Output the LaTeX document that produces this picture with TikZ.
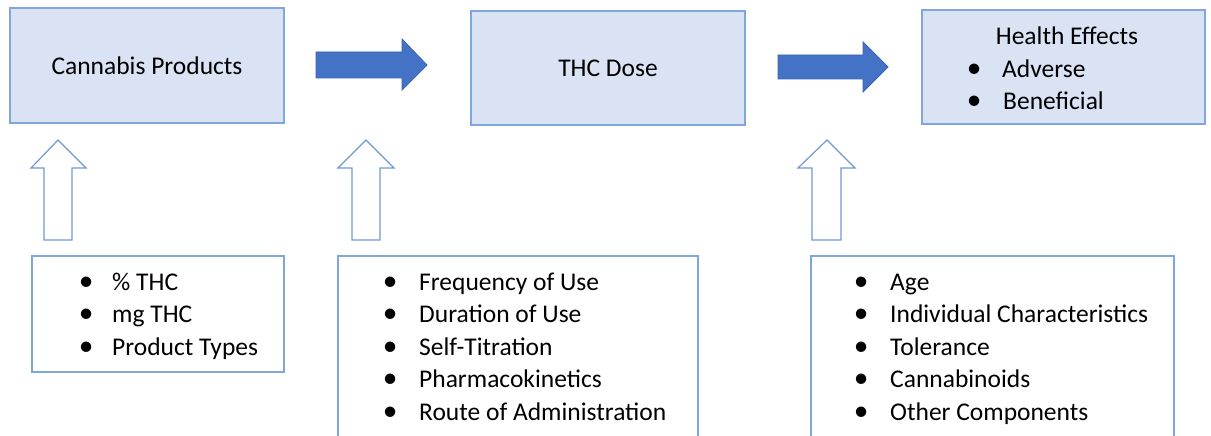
\documentclass[tikz,border=0pt]{standalone}
\usepackage{fontspec}
\setmainfont{Carlito}
\definecolor{boxfill}{HTML}{DAE3F3}
\definecolor{boxline}{HTML}{7FA6DD}
\definecolor{arrowfill}{HTML}{4472C4}
\definecolor{arrowline}{HTML}{3A64B0}
\definecolor{uparrowline}{HTML}{6F98D9}
% bullet centred on the current point, followed by a gap
\newcommand{\itemdot}[1][28pt]{\makebox[0pt][c]{\scalebox{1.15}{•}}\hspace{#1}}

\begin{document}
\begin{tikzpicture}[x=1pt,y=-1pt,
  every node/.style={font=\fontsize{25.5}{32.5}\selectfont, inner sep=0pt, text=black},
  topbox/.style={rectangle, draw=boxline, line width=1.2pt, fill=boxfill},
  listbox/.style={rectangle, draw=boxline, line width=1.2pt, fill=white},
  flowarrow/.style={fill=arrowfill, draw=arrowline, line width=0.8pt, line join=miter},
  uparrow/.style={draw=uparrowline, line width=1.2pt, fill=white, line join=miter}]

\clip (0,0) rectangle (1211,436);

% top row: the three stages
\node[topbox, minimum width=274pt, minimum height=115pt] (products) at (147,65.5) {Cannabis Products};
\node[topbox, minimum width=274pt, minimum height=114pt] (dose) at (608,68) {THC Dose};
\node[topbox, minimum width=283pt, minimum height=114pt] (effects) at (1063.5,67) {};
\node[anchor=base] (effectstitle) at (1067,44.5) {Health Effects};
\node[anchor=base west] (effectslist) at (974,77.5)
  {\begin{tabular}[t]{@{}l@{}}\itemdot Adverse\\ \itemdot[29pt]Beneficial\end{tabular}};

% block arrows between the stages
\draw[flowarrow] (316,52) -- (402,52) -- (402,39) -- (427,65) -- (402,90) -- (402,78) -- (316,78) -- cycle;
\draw[flowarrow] (778,55) -- (863,55) -- (863,42) -- (888,67) -- (863,92) -- (863,79) -- (778,79) -- cycle;

% hollow arrows from the factor lists
\draw[uparrow] (44,240) -- (44,168) -- (31,168) -- (58,140) -- (86,168) -- (72,168) -- (72,240) -- cycle;
\draw[uparrow] (352,240) -- (352,168) -- (338,168) -- (366,140) -- (394,168) -- (380,168) -- (380,240) -- cycle;
\draw[uparrow] (812,240) -- (812,168) -- (798,168) -- (827,140) -- (855,168) -- (841,168) -- (841,240) -- cycle;

% factor lists
\node[listbox, minimum width=252pt, minimum height=116pt] (thcbox) at (158,314) {};
\node[listbox, minimum width=360pt, minimum height=200pt] (usebox) at (518,356) {};
\node[listbox, minimum width=363pt, minimum height=200pt] (personbox) at (992.5,356) {};

\node[anchor=base west] (thclist) at (86,290)
  {\begin{tabular}[t]{@{}l@{}}\itemdot[26pt]\% THC\\ \itemdot[26pt]mg THC\\ \itemdot[26pt]Product Types\end{tabular}};
\node[anchor=base west] (uselist) at (390,290)
  {\begin{tabular}[t]{@{}l@{}}\itemdot[29pt]Frequency of Use\\ \itemdot[29pt]Duration of Use\\ \itemdot[29pt]Self-Titration\\ \itemdot[29pt]Pharmacokinetics\\ \itemdot[29pt]Route of Administration\end{tabular}};
\node[anchor=base west] (personlist) at (861,290)
  {\begin{tabular}[t]{@{}l@{}}\itemdot[29pt]Age\\ \itemdot[29pt]Individual Characteristics\\ \itemdot[29pt]Tolerance\\ \itemdot[29pt]Cannabinoids\\ \itemdot[29pt]Other Components\end{tabular}};
\end{tikzpicture}
\end{document}
